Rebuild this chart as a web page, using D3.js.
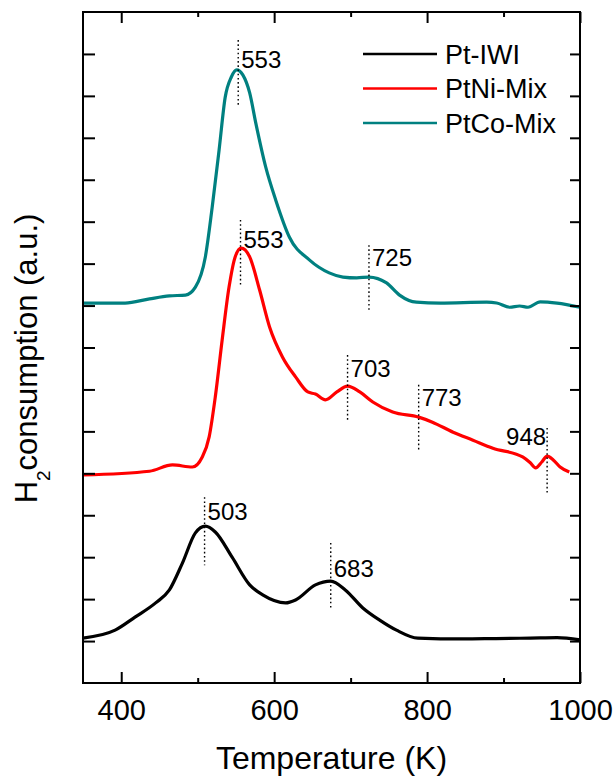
<!DOCTYPE html>
<html>
<head>
<meta charset="utf-8">
<script src="https://cdn.jsdelivr.net/npm/d3@7"></script>
<style>
  html, body { margin: 0; padding: 0; background: #fff; }
  svg text { font-family: Arial, "Liberation Sans", sans-serif; fill: #000; }
</style>
</head>
<body>
<svg id="chart" width="615" height="778"></svg>
<script>
// ---------- data ----------
const seriesNames = ["Pt-IWI", "PtNi-Mix", "PtCo-Mix"];
const seriesColors = ["#000000", "#ff0000", "#008080"];

const ptIwiT = [350, 392, 418, 445, 463, 480, 497, 510, 523, 545, 568, 585, 615, 628, 654, 674, 693, 716, 738, 760, 788, 847, 890, 935, 970, 1000];
const ptIwiV = [1.07, 1.26, 1.57, 1.91, 2.22, 2.86, 3.58, 3.74, 3.60, 3.00, 2.34, 2.10, 1.91, 1.98, 2.34, 2.43, 2.22, 1.79, 1.50, 1.26, 1.07, 1.05, 1.06, 1.07, 1.08, 1.03];

const ptNiT = [350, 437, 467, 493, 506, 515, 523, 532, 541, 549, 557, 568, 581, 594, 611, 628, 644, 654, 667, 682, 696, 712, 729, 755, 789, 807, 834, 860, 886, 925, 935, 942, 950, 957, 965, 974, 986];
const ptNiV = [4.96, 5.05, 5.20, 5.15, 5.39, 5.87, 6.82, 8.18, 9.44, 10.16, 10.37, 10.16, 9.37, 8.49, 7.77, 7.30, 6.94, 6.89, 6.75, 6.94, 7.08, 6.94, 6.70, 6.46, 6.34, 6.22, 5.98, 5.79, 5.60, 5.39, 5.25, 5.13, 5.27, 5.41, 5.32, 5.15, 5.03];

const ptCoT = [350, 405, 437, 463, 484, 497, 510, 519, 528, 536, 544, 551, 559, 568, 576, 589, 602, 620, 646, 672, 690, 708, 724, 747, 764, 786, 817, 878, 891, 908, 921, 932, 948, 970, 1000];
const ptCoV = [9.06, 9.06, 9.16, 9.23, 9.25, 9.44, 10.16, 11.35, 12.71, 13.97, 14.45, 14.62, 14.50, 14.07, 13.35, 12.30, 11.52, 10.63, 10.09, 9.78, 9.68, 9.66, 9.68, 9.54, 9.25, 9.08, 9.06, 9.08, 9.06, 8.96, 8.99, 8.96, 9.09, 9.06, 8.96];

const xMajorTicks = [400, 600, 800, 1000];
const xMinorTicks = [500, 700, 900];
const yTicks = [1, 2, 3, 4, 5, 6, 7, 8, 9, 10, 11, 12, 13, 14, 15];

// peak annotations (data coordinates)
const peakLabels = ["553", "553", "725", "703", "773", "948", "503", "683"];
const peakX      = [553, 556, 724, 696, 789, 957, 509, 674];
const peakTop    = [15.33, 11.04, 10.44, 7.82, 7.11, 6.08, 4.43, 3.34];
const peakBottom = [13.78, 9.49, 8.89, 6.27, 5.56, 4.48, 2.81, 1.79];
const peakLabelY = [14.66, 10.37, 9.94, 7.30, 6.60, 5.67, 3.89, 2.53];
const peakAnchor = ["start", "start", "start", "start", "start", "end", "start", "start"];

// ---------- layout ----------
const L = 83, R = 580, T = 12, B = 683;
const svg = d3.select("#chart");
const x = d3.scaleLinear().domain([350, 1000]).range([L, R]);
const y = d3.scaleLinear().domain([0, 16]).range([B, T]);

const series = [
  { name: seriesNames[0], color: seriesColors[0], pts: ptIwiT.map((t, i) => [t, ptIwiV[i]]) },
  { name: seriesNames[1], color: seriesColors[1], pts: ptNiT.map((t, i) => [t, ptNiV[i]]) },
  { name: seriesNames[2], color: seriesColors[2], pts: ptCoT.map((t, i) => [t, ptCoV[i]]) }
];

const line = d3.line().x(d => x(d[0])).y(d => y(d[1])).curve(d3.curveMonotoneX);

// curves
svg.append("g").selectAll("path").data(series).join("path")
  .attr("d", d => line(d.pts))
  .attr("fill", "none")
  .attr("stroke", d => d.color)
  .attr("stroke-width", 3.2)
  .attr("stroke-linejoin", "round");

// ---------- axes ----------
function styleAxis(g) {
  g.select(".domain").remove();
  g.selectAll(".tick line").attr("stroke", "#000").attr("stroke-width", 2);
}
const bottom = svg.append("g").attr("transform", `translate(0,${B})`)
  .call(d3.axisBottom(x).tickValues(xMajorTicks).tickSizeInner(-11).tickSizeOuter(0).tickPadding(16).tickFormat(d3.format("d")));
styleAxis(bottom);
bottom.selectAll(".tick text").attr("font-size", 29).attr("font-family", "Arial, 'Liberation Sans', sans-serif");
styleAxis(svg.append("g").attr("transform", `translate(0,${B})`)
  .call(d3.axisBottom(x).tickValues(xMinorTicks).tickSizeInner(-5).tickSizeOuter(0).tickFormat("")));
styleAxis(svg.append("g").attr("transform", `translate(0,${T})`)
  .call(d3.axisTop(x).tickValues(xMajorTicks).tickSizeInner(-11).tickSizeOuter(0).tickFormat("")));
styleAxis(svg.append("g").attr("transform", `translate(0,${T})`)
  .call(d3.axisTop(x).tickValues(xMinorTicks).tickSizeInner(-5).tickSizeOuter(0).tickFormat("")));
styleAxis(svg.append("g").attr("transform", `translate(${L},0)`)
  .call(d3.axisLeft(y).tickValues(yTicks).tickSizeInner(-12).tickSizeOuter(0).tickFormat("")));
styleAxis(svg.append("g").attr("transform", `translate(${R},0)`)
  .call(d3.axisRight(y).tickValues(yTicks).tickSizeInner(-10).tickSizeOuter(0).tickFormat("")));

// frame
svg.append("rect").attr("x", L).attr("y", T).attr("width", R - L).attr("height", B - T)
  .attr("fill", "none").attr("stroke", "#000").attr("stroke-width", 2);

// ---------- peak annotations ----------
const ann = svg.append("g");
peakLabels.forEach((lab, i) => {
  ann.append("line")
    .attr("x1", x(peakX[i])).attr("x2", x(peakX[i]))
    .attr("y1", y(peakTop[i])).attr("y2", y(peakBottom[i]))
    .attr("stroke", "#000").attr("stroke-width", 1.4)
    .attr("stroke-dasharray", "1.6,2.6");
  ann.append("text")
    .attr("x", x(peakX[i]) + (peakAnchor[i] === "end" ? -1 : 3))
    .attr("y", y(peakLabelY[i]))
    .attr("text-anchor", peakAnchor[i])
    .attr("font-size", 24)
    .text(lab);
});

// ---------- legend ----------
const legend = svg.append("g");
series.forEach((s, i) => {
  const ly = 54 + i * 34.5;
  legend.append("line").attr("x1", 363).attr("x2", 437).attr("y1", ly).attr("y2", ly)
    .attr("stroke", s.color).attr("stroke-width", 2.4);
  legend.append("text").attr("x", 445).attr("y", ly).attr("dy", "0.36em")
    .attr("font-size", 27).text(s.name);
});

// ---------- axis titles ----------
svg.append("text").attr("x", (L + R) / 2).attr("y", 769).attr("text-anchor", "middle")
  .attr("font-size", 32).text("Temperature (K)");

const yt = svg.append("text").attr("transform", `translate(37,${(T + B) / 2 + 11}) rotate(-90)`)
  .attr("text-anchor", "middle").attr("font-size", 31);
yt.append("tspan").text("H");
yt.append("tspan").attr("dy", 13).attr("font-size", 19).text("2");
yt.append("tspan").attr("dy", -13).text("consumption (a.u.)");
</script>
</body>
</html>
